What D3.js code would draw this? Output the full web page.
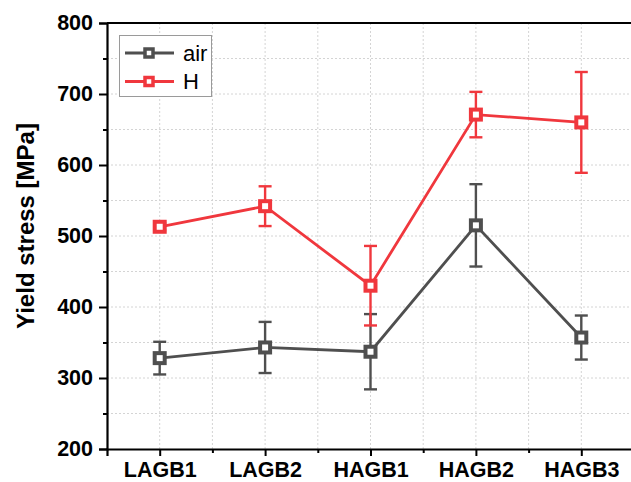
<!DOCTYPE html>
<html>
<head>
<meta charset="utf-8">
<script src="https://cdn.jsdelivr.net/npm/d3@7"></script>
<style>
  body { margin: 0; background: #fff; }
  text { font-family: "Liberation Sans", Arial, sans-serif; }
</style>
</head>
<body>
<svg id="chart" width="631" height="482"></svg>
<script>
const categories = ["LAGB1", "LAGB2", "HAGB1", "HAGB2", "HAGB3"];
const airMean = [328, 343, 337, 515, 357];
const airErr = [23, 36, 53, 58, 31];
const hMean = [513, 542, 430, 671, 660];
const hErr = [5, 28, 56, 32, 71];
const yTicks = [200, 300, 400, 500, 600, 700, 800];

const series = [
  { name: "air", color: "#4f4f4f", mean: airMean, err: airErr },
  { name: "H", color: "#f0373d", mean: hMean, err: hErr }
];

const margin = { left: 107, top: 23, right: -3, bottom: 33 };
const width = 631, height = 482;

const svg = d3.select("#chart");

const x = d3
  .scaleLinear()
  .domain([0.5, categories.length + 0.5])
  .range([margin.left, width - margin.right]);

const y = d3
  .scaleLinear()
  .domain([200, 800])
  .range([height - margin.bottom, margin.top]);

// grid
const grid = svg.append("g").attr("class", "grid");
grid
  .selectAll(".hgrid")
  .data(d3.range(250, 800, 50))
  .enter()
  .append("line")
  .attr("x1", x(0.5))
  .attr("x2", x(5.5))
  .attr("y1", d => y(d))
  .attr("y2", d => y(d))
  .attr("stroke", "#d4d4d4")
  .attr("stroke-width", 1)
  .attr("stroke-dasharray", "2,2");

grid
  .selectAll(".vgrid")
  .data(d3.range(1, 5.6, 0.5))
  .enter()
  .append("line")
  .attr("x1", d => x(d))
  .attr("x2", d => x(d))
  .attr("y1", y(200))
  .attr("y2", y(800))
  .attr("stroke", "#d4d4d4")
  .attr("stroke-width", 1)
  .attr("stroke-dasharray", "2,2");

// axes
const yAxis = d3
  .axisLeft(y)
  .tickValues(yTicks)
  .tickSize(8)
  .tickPadding(6)
  .tickFormat(d3.format("d"));

svg
  .append("g")
  .attr("transform", `translate(${margin.left},0)`)
  .call(yAxis);

svg
  .append("g")
  .attr("transform", `translate(${margin.left},0)`)
  .call(d3.axisLeft(y).tickValues(d3.range(250, 800, 100)).tickSize(4).tickFormat(""))
  .call(g => g.select(".domain").remove());

const xAxis = d3
  .axisBottom(x)
  .tickValues(d3.range(1, categories.length + 1))
  .tickSize(7)
  .tickPadding(6)
  .tickFormat(d => categories[d - 1]);

svg
  .append("g")
  .attr("transform", `translate(0,${y(200)})`)
  .call(xAxis);

svg
  .append("g")
  .attr("transform", `translate(0,${y(200)})`)
  .call(d3.axisBottom(x).tickValues(d3.range(1.5, 5.6, 1)).tickSize(4).tickFormat(""))
  .call(g => g.select(".domain").remove());

svg.selectAll(".domain").attr("stroke", "#000").attr("stroke-width", 2.2);
svg.selectAll(".tick line").attr("stroke", "#000").attr("stroke-width", 2);
svg.selectAll(".tick text")
  .attr("font-size", 21.5)
  .attr("font-weight", "bold")
  .attr("fill", "#000")
  .style("font-family", "'Liberation Sans', Arial, sans-serif");

// top frame line
svg
  .append("line")
  .attr("x1", x(0.5))
  .attr("x2", x(5.5))
  .attr("y1", y(800))
  .attr("y2", y(800))
  .attr("stroke", "#000")
  .attr("stroke-width", 2.2);

// y label
svg
  .append("text")
  .attr("transform", `translate(34,226) rotate(-90)`)
  .attr("text-anchor", "middle")
  .attr("font-size", 24)
  .attr("font-weight", "bold")
  .text("Yield stress [MPa]");

// series
const line = d3
  .line()
  .x((d, i) => x(i + 1))
  .y(d => y(d));

series.forEach(s => {
  const g = svg.append("g").attr("class", "series-" + s.name);

  g.append("path")
    .datum(s.mean)
    .attr("d", line)
    .attr("fill", "none")
    .attr("stroke", s.color)
    .attr("stroke-width", 2.8);

  const bars = g
    .selectAll(".err")
    .data(s.mean.map((m, i) => ({ i: i, m: m, e: s.err[i] })))
    .enter()
    .append("g");

  bars
    .append("line")
    .attr("x1", d => x(d.i + 1))
    .attr("x2", d => x(d.i + 1))
    .attr("y1", d => y(d.m + d.e))
    .attr("y2", d => y(d.m - d.e))
    .attr("stroke", s.color)
    .attr("stroke-width", 2.4);

  [1, -1].forEach(sign => {
    bars
      .append("line")
      .attr("x1", d => x(d.i + 1) - 6.5)
      .attr("x2", d => x(d.i + 1) + 6.5)
      .attr("y1", d => y(d.m + sign * d.e))
      .attr("y2", d => y(d.m + sign * d.e))
      .attr("stroke", s.color)
      .attr("stroke-width", 2.4);
  });

  bars
    .append("rect")
    .attr("x", d => x(d.i + 1) - 5)
    .attr("y", d => y(d.m) - 5)
    .attr("width", 10)
    .attr("height", 10)
    .attr("fill", "#fff")
    .attr("stroke", s.color)
    .attr("stroke-width", 4);
});

// legend
const legend = svg.append("g");
legend
  .append("rect")
  .attr("x", 119.5)
  .attr("y", 35.5)
  .attr("width", 92)
  .attr("height", 61)
  .attr("fill", "#fff")
  .attr("stroke", "#9a9a9a")
  .attr("stroke-width", 1);

series.forEach((s, i) => {
  const ly = 53 + i * 28.5;
  legend
    .append("line")
    .attr("x1", 125)
    .attr("x2", 174)
    .attr("y1", ly)
    .attr("y2", ly)
    .attr("stroke", s.color)
    .attr("stroke-width", 2.8);
  legend
    .append("rect")
    .attr("x", 145)
    .attr("y", ly - 4)
    .attr("width", 8)
    .attr("height", 8)
    .attr("fill", "#fff")
    .attr("stroke", s.color)
    .attr("stroke-width", 3.5);
  legend
    .append("text")
    .attr("x", 183)
    .attr("y", ly + 7.5)
    .attr("font-size", 22)
    .attr("fill", "#000")
    .text(s.name);
});
</script>
</body>
</html>
